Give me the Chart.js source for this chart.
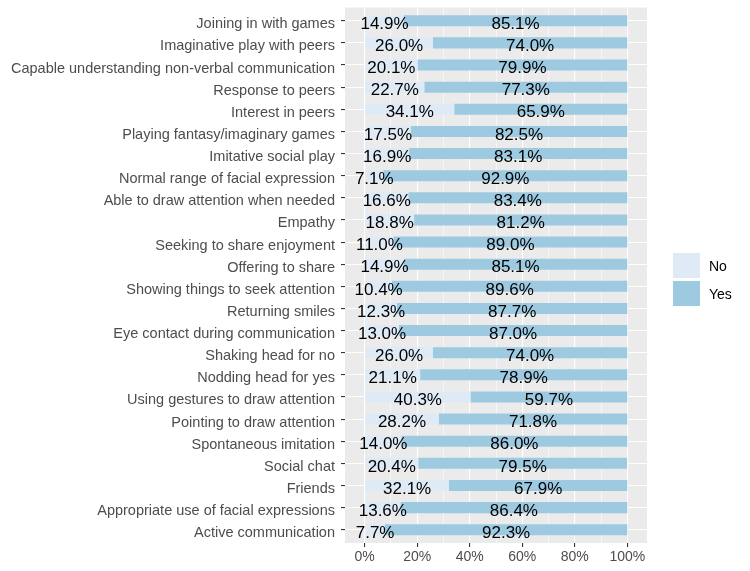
<!DOCTYPE html>
<html>
<head>
<meta charset="utf-8">
<script src="https://cdn.jsdelivr.net/npm/chart.js@4/dist/chart.umd.min.js"></script>
<style>
  html, body { margin: 0; padding: 0; background: #ffffff; }
  #wrap { width: 750px; height: 571px; }
</style>
</head>
<body>
<div id="wrap"><canvas id="c" width="750" height="571"></canvas></div>
<script>
const categories = [
  "Joining in with games",
  "Imaginative play with peers",
  "Capable understanding non-verbal communication",
  "Response to peers",
  "Interest in peers",
  "Playing fantasy/imaginary games",
  "Imitative social play",
  "Normal range of facial expression",
  "Able to draw attention when needed",
  "Empathy",
  "Seeking to share enjoyment",
  "Offering to share",
  "Showing things to seek attention",
  "Returning smiles",
  "Eye contact during communication",
  "Shaking head for no",
  "Nodding head for yes",
  "Using gestures to draw attention",
  "Pointing to draw attention",
  "Spontaneous imitation",
  "Social chat",
  "Friends",
  "Appropriate use of facial expressions",
  "Active communication"
];
const noValues = [14.9, 26.0, 20.1, 22.7, 34.1, 17.5, 16.9, 7.1, 16.6, 18.8, 11.0, 14.9, 10.4, 12.3, 13.0, 26.0, 21.1, 40.3, 28.2, 14.0, 20.4, 32.1, 13.6, 7.7];
const yesValues = [85.1, 74.0, 79.9, 77.3, 65.9, 82.5, 83.1, 92.9, 83.4, 81.2, 89.0, 85.1, 89.6, 87.7, 87.0, 74.0, 78.9, 59.7, 71.8, 86.0, 79.5, 67.9, 86.4, 92.3];
const seriesNames = ["No", "Yes"];
const xTickValues = [0, 10, 20, 30, 40, 50, 60, 70, 80, 90, 100];

const FONT = "'Liberation Sans', Arial, Helvetica, sans-serif";
const colNo = "#deebf7";
const colYes = "#9ecae1";

const panelBg = {
  id: 'panelBg',
  beforeDraw(chart) {
    const {ctx, chartArea: a} = chart;
    ctx.save();
    ctx.fillStyle = '#ebebeb';
    ctx.fillRect(a.left, a.top, a.right - a.left, a.bottom - a.top);
    ctx.restore();
  }
};

const barLabels = {
  id: 'barLabels',
  afterDatasetsDraw(chart) {
    const ctx = chart.ctx;
    ctx.save();
    ctx.font = "17px " + FONT;
    ctx.fillStyle = '#000000';
    ctx.textAlign = 'center';
    ctx.textBaseline = 'middle';
    chart.data.datasets.forEach((ds, di) => {
      const meta = chart.getDatasetMeta(di);
      meta.data.forEach((bar, j) => {
        const v = ds.data[j].x;
        const cx = (bar.x + bar.base) / 2;
        ctx.fillText(v.toFixed(1) + '%', cx, bar.y + 3.5);
      });
    });
    ctx.restore();
  }
};

const legendPlugin = {
  id: 'customLegend',
  afterDraw(chart) {
    const ctx = chart.ctx;
    const a = chart.chartArea;
    const x0 = a.right + 26;
    const y0 = 253;
    const kw = 27, kh = 25, gap = 3;
    ctx.save();
    chart.data.datasets.forEach((ds, i) => {
      const y = y0 + i * (kh + gap);
      ctx.fillStyle = ds.backgroundColor;
      ctx.fillRect(x0, y, kw, kh);
      ctx.fillStyle = '#000000';
      ctx.font = "14px " + FONT;
      ctx.textAlign = 'left';
      ctx.textBaseline = 'middle';
      ctx.fillText(ds.label, x0 + kw + 9, y + kh / 2 + 1.5);
    });
    ctx.restore();
  }
};

new Chart(document.getElementById('c'), {
  type: 'bar',
  data: {
    datasets: [
      {
        label: seriesNames[0],
        data: noValues.map((v, i) => ({x: v, y: i})),
        backgroundColor: colNo,
        borderWidth: 0
      },
      {
        label: seriesNames[1],
        data: yesValues.map((v, i) => ({x: v, y: i})),
        backgroundColor: colYes,
        borderWidth: 0
      }
    ]
  },
  options: {
    indexAxis: 'y',
    responsive: false,
    devicePixelRatio: 1,
    animation: false,
    datasets: { bar: { categoryPercentage: 1, barPercentage: 0.5 } },
    layout: { padding: { top: 7.5, right: 103, left: 0, bottom: 0 } },
    plugins: {
      legend: { display: false },
      tooltip: { enabled: false }
    },
    scales: {
      x: {
        type: 'linear',
        stacked: true,
        offset: false,
        min: -7.5,
        max: 107.5,
        afterBuildTicks(scale) { scale.ticks = xTickValues.map(v => ({value: v})); },
        afterFit(scale) { scale.height = 28; scale.paddingLeft = 0; scale.paddingRight = 0; },
        border: { display: false },
        grid: {
          offset: false,
          color: '#ffffff',
          lineWidth: ctx => (ctx.tick && ctx.tick.value % 20 === 0) ? 1.1 : 0.55,
          tickColor: ctx => (ctx.tick && ctx.tick.value % 20 === 0) ? '#333333' : 'rgba(0,0,0,0)',
          tickWidth: 1.1,
          tickLength: 4
        },
        ticks: {
          autoSkip: false,
          maxRotation: 0,
          padding: 2,
          color: '#4d4d4d',
          font: { family: FONT, size: 14 },
          callback: v => (v % 20 === 0) ? v + '%' : ''
        }
      },
      y: {
        type: 'linear',
        stacked: true,
        reverse: true,
        offset: false,
        min: -0.6,
        max: categories.length - 0.4,
        afterBuildTicks(scale) { scale.ticks = categories.map((c, i) => ({value: i})); },
        afterFit(scale) { scale.width = 345; scale.paddingTop = 0; scale.paddingBottom = 0; },
        border: { display: false },
        grid: {
          offset: false,
          color: '#ffffff',
          lineWidth: 1.1,
          tickColor: '#333333',
          tickWidth: 1.1,
          tickLength: 4
        },
        ticks: {
          autoSkip: false,
          padding: 6,
          labelOffset: 3.5,
          color: '#4d4d4d',
          font: { family: FONT, size: 14.5 },
          callback: v => categories[v]
        }
      }
    }
  },
  plugins: [panelBg, barLabels, legendPlugin]
});
</script>
</body>
</html>
